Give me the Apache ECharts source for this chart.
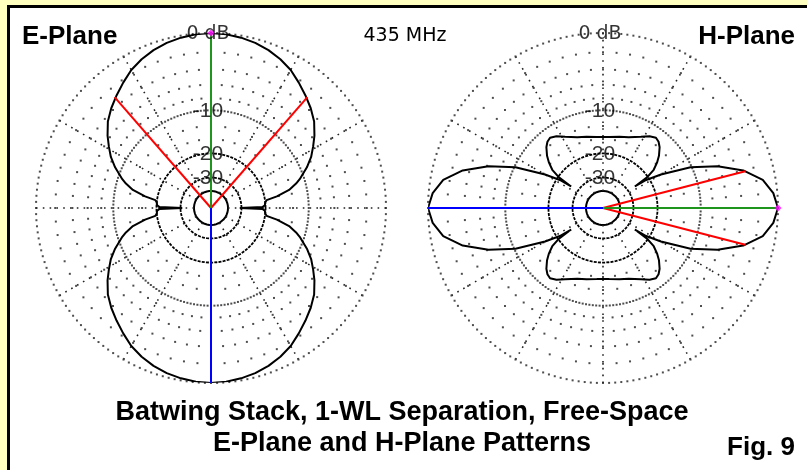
<!DOCTYPE html>
<html lang="en">
<head>
<meta charset="UTF-8">
<title>Batwing Stack</title>
<style>
  html, body { margin: 0; padding: 0; background: #ffffc0; }
  #main { width: 807px; height: 470px; }
</style>
</head>
<body>
<div id="main"></div>
<script src="https://cdn.jsdelivr.net/npm/echarts@6/dist/echarts.min.js"></script>
<script>
// E-plane pattern, one quadrant (elevation 0..90 deg), gain in dB
const eAngles = [0, 1, 3, 6, 8, 10, 13, 16, 18, 23, 27, 31, 35, 40, 45, 50, 55, 60, 65, 70, 75, 80, 85, 90];
const eGain   = [-31, -21, -20.2, -20, -19.5, -16.5, -13.4, -11.7, -10.8, -8.9, -7.6, -6.6, -5.6, -4.5, -3.7, -3.0, -2.3, -1.6, -1.1, -0.7, -0.4, -0.2, -0.05, 0];

// H-plane pattern, one quadrant (azimuth 0..90 deg), gain in dB
const hAngles = [0, 5, 10, 15, 20, 25, 30, 33, 34, 35, 37, 40, 43, 47, 50, 53, 57, 62, 70, 77, 85, 90];
const hGain   = [0, -0.4, -1.3, -3.2, -6.2, -10.2, -16.5, -21, -26, -20, -17.4, -15.6, -14.2, -12.8, -12.1, -11.8, -12.3, -13.3, -14.5, -15, -15.4, -15.5];

// grid: dense rings, light 2 dB rings, spokes (dB / degrees)
const denseRings = [0, -10];
const innerRings = [-20, -30];
const coreRing = -40;
const outerLightRings = [-2, -4, -6, -8];
const innerLightRings = [-13, -16];
const ringLabels = ['0 dB', '-10', '-20', '-30'];
const labelLevels = [0, -10, -20, -30];
const spokeStep = 30;

// main lobe, back direction and -3 dB beam edges
const eMain = 90, eBack = 270, eBeam = [49, 131];
const hMain = 0, hBack = 180, hBeam = [14.5, 345.5];
const beamDb = -3;

const R = 175;
const centers = [[211, 208], [603, 208]];

// ARRL log scale: 0.89 of radius per 2 dB
const arrl = db => Math.pow(0.89, -db / 2);

function mirror(angles, gain) {
    const pts = [];
    angles.forEach((a, i) => {
        pts.push([a, gain[i]], [180 - a, gain[i]], [180 + a, gain[i]], [360 - a, gain[i]]);
    });
    pts.sort((p, q) => p[0] - q[0]);
    const out = [];
    pts.forEach(p => {
        if (!out.length || out[out.length - 1][0] !== p[0]) out.push(p);
    });
    return out.map(p => [arrl(p[1]), p[0]]);
}

const dot = '#222';

function dots(pi, levels, step) {
    const pts = [];
    levels.forEach(lv => {
        for (let a = 0; a < 360; a += step) pts.push([arrl(lv), a]);
    });
    return {
        type: 'scatter', coordinateSystem: 'polar', polarIndex: pi, data: pts,
        symbol: 'rect', symbolSize: 2, silent: true, z: 1, itemStyle: {color: dot}
    };
}

function ring(pi, lv, style) {
    const pts = [];
    for (let a = 0; a <= 360; a += 2) pts.push([arrl(lv), a]);
    return {
        type: 'line', coordinateSystem: 'polar', polarIndex: pi,
        data: pts, showSymbol: false, silent: true, z: 1, lineStyle: style
    };
}

function gridSeries(pi) {
    const list = [dots(pi, denseRings, 2), dots(pi, outerLightRings, 5), dots(pi, innerLightRings, 10)];
    innerRings.forEach(lv => list.push(ring(pi, lv, {color: '#000', width: 1.8, type: [3, 1.2]})));
    list.push(ring(pi, coreRing, {color: '#000', width: 2, type: 'solid'}));
    for (let a = 0; a < 360; a += spokeStep) {
        list.push({
            type: 'line', coordinateSystem: 'polar', polarIndex: pi,
            data: [[1, a], [arrl(coreRing), a]], showSymbol: false, silent: true, z: 1,
            lineStyle: {color: dot, width: 1.6, type: [1.6, 5.2]}
        });
    }
    // ring labels
    list.push({
        type: 'scatter', coordinateSystem: 'polar', polarIndex: pi,
        symbolSize: 0.1, itemStyle: {color: 'transparent'}, silent: true, z: 5,
        data: ringLabels.map((t, i) => ({
            value: [arrl(labelLevels[i]), 90],
            label: {
                show: true, position: 'inside', offset: [-3, 1], formatter: t, color: '#000',
                fontFamily: i === 0 ? 'DejaVu Sans' : 'Liberation Sans',
                fontSize: i === 0 ? 19 : 21
            }
        }))
    });
    return list;
}

function ray(pi, a, r, color) {
    return {
        type: 'line', coordinateSystem: 'polar', polarIndex: pi,
        data: [[0, a], [r, a]], showSymbol: false, silent: true, z: 4,
        lineStyle: {color, width: 2}
    };
}

function plotSeries(pi, pattern, main, back, beam) {
    return [
        {
            type: 'line', coordinateSystem: 'polar', polarIndex: pi,
            data: pattern, showSymbol: false, silent: true, z: 3,
            lineStyle: {color: '#000', width: 2}
        },
        ray(pi, beam[0], arrl(beamDb), '#ff0000'),
        ray(pi, beam[1], arrl(beamDb), '#ff0000'),
        ray(pi, main, 1, '#1e961e'),
        ray(pi, back, 1, '#0000ff'),
        {
            type: 'scatter', coordinateSystem: 'polar', polarIndex: pi,
            data: [[1, main]], symbol: 'diamond', symbolSize: 7, silent: true, z: 6,
            itemStyle: {color: '#ff00ff'}
        }
    ];
}

const chart = echarts.init(document.getElementById('main'));

const option = {
    backgroundColor: '#ffffc0',
    animation: false,
    polar: centers.map(c => ({center: c, radius: R})),
    angleAxis: [0, 1].map(i => ({
        polarIndex: i, type: 'value', min: 0, max: 360, startAngle: 0, clockwise: false, show: false
    })),
    radiusAxis: [0, 1].map(i => ({polarIndex: i, type: 'value', min: 0, max: 1, show: false})),
    graphic: [
        {type: 'rect', z: 0, shape: {x: 8.5, y: 6.5, width: 820, height: 490},
            style: {fill: '#fff', stroke: '#000', lineWidth: 3}},
        {type: 'text', z: 10, style: {text: 'E-Plane', x: 22, y: 37, fill: '#000',
            font: 'bold 26px "Liberation Sans"', textAlign: 'left', textVerticalAlign: 'middle'}},
        {type: 'text', z: 10, style: {text: 'H-Plane', x: 795, y: 37, fill: '#000',
            font: 'bold 26px "Liberation Sans"', textAlign: 'right', textVerticalAlign: 'middle'}},
        {type: 'text', z: 10, style: {text: '435 MHz', x: 405, y: 36, fill: '#000',
            font: '19px "DejaVu Sans"', textAlign: 'center', textVerticalAlign: 'middle'}},
        {type: 'text', z: 10, style: {text: 'Batwing Stack, 1-WL Separation, Free-Space', x: 402, y: 413, fill: '#000',
            font: 'bold 27px "Liberation Sans"', textAlign: 'center', textVerticalAlign: 'middle'}},
        {type: 'text', z: 10, style: {text: 'E-Plane and H-Plane Patterns', x: 402, y: 444, fill: '#000',
            font: 'bold 27px "Liberation Sans"', textAlign: 'center', textVerticalAlign: 'middle'}},
        {type: 'text', z: 10, style: {text: 'Fig. 9', x: 795, y: 448, fill: '#000',
            font: 'bold 26px "Liberation Sans"', textAlign: 'right', textVerticalAlign: 'middle'}}
    ],
    series: [].concat(
        gridSeries(0), gridSeries(1),
        plotSeries(0, mirror(eAngles, eGain), eMain, eBack, eBeam),
        plotSeries(1, mirror(hAngles, hGain), hMain, hBack, hBeam)
    )
};

chart.setOption(option);
</script>
</body>
</html>
